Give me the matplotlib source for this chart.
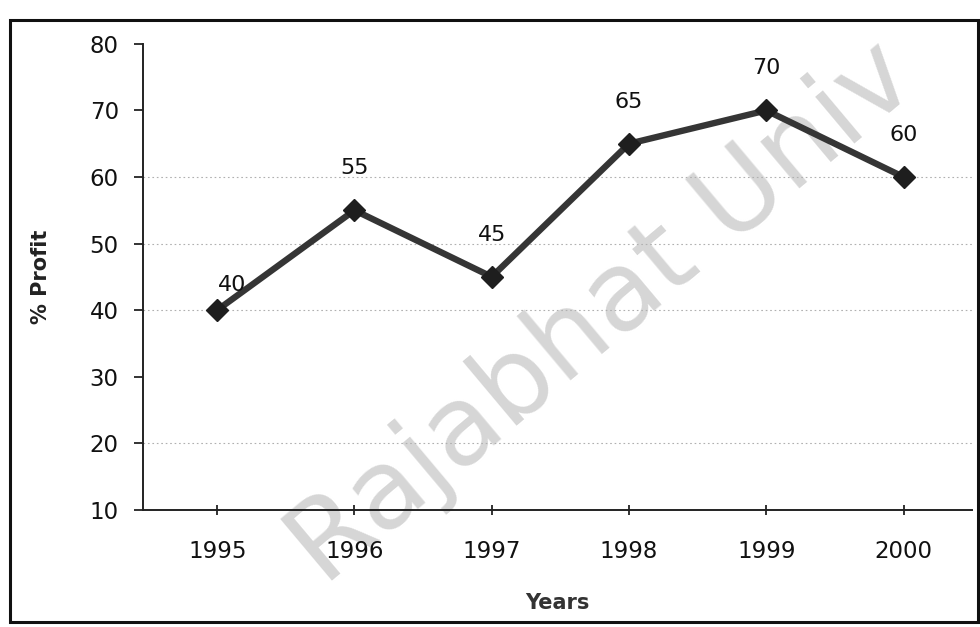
import matplotlib
matplotlib.use("Agg")
import matplotlib.pyplot as plt
from matplotlib.patches import Rectangle

years = ["1995", "1996", "1997", "1998", "1999", "2000"]
profit = [40, 55, 45, 65, 70, 60]
y_ticks = [10, 20, 30, 40, 50, 60, 70, 80]
grid_levels = [20, 40, 50, 60]

plt.rcParams["font.family"] = ["DejaVu Sans"]

fig = plt.figure(figsize=(9.8, 6.27), dpi=100)
ax = fig.add_axes([0.146, 0.187, 0.846, 0.743])
ax.set_facecolor("none")

x = list(range(len(years)))
ax.plot(x, profit, color="#353535", lw=4.6, marker="D", ms=11,
        mfc="#1e1e1e", mec="#1e1e1e", zorder=3, solid_joinstyle="round")

# value labels above each point
for xi, v in zip(x, profit):
    dx, dy = (0.11, 11) if xi == 0 else (0.0, 23)
    ax.annotate(str(v), (xi + dx, v), xytext=(0, dy), textcoords="offset points",
                ha="center", va="bottom", fontsize=16, color="#111111")

ax.set_xlim(-0.54, 5.5)
ax.set_ylim(10, 80)
ax.set_yticks(y_ticks)
ax.set_xticks(x)
ax.set_xticklabels(years)

for gy in grid_levels:
    ax.axhline(gy, color="#b0b0b0", lw=0.8, ls=(0, (1.5, 2.5)), zorder=1)

for side in ["top", "right"]:
    ax.spines[side].set_visible(False)
for side in ["left", "bottom"]:
    ax.spines[side].set_color("#222222")
    ax.spines[side].set_linewidth(1.4)

ax.tick_params(axis="y", direction="out", length=6.5, width=1.2, labelsize=16.5, pad=11,
               colors="#111111")
ax.tick_params(axis="x", direction="inout", length=7, width=1.2, labelsize=16.5, pad=18,
               colors="#111111")

ax.set_ylabel("% Profit", fontsize=15, fontweight="bold", color="#222222")
ax.yaxis.set_label_coords(-0.123, 0.5)
ax.yaxis.label.set_va("center")
ax.set_xlabel("Years", fontsize=15, fontweight="bold", color="#333333")
ax.xaxis.set_label_coords(0.5, -0.2)
ax.xaxis.label.set_va("center")

# outer frame around the whole chart
fig.patches.append(Rectangle((10 / 980, 1 - 622 / 627), 968 / 980, 602 / 627,
                             transform=fig.transFigure, fill=False,
                             edgecolor="#111111", lw=2.2))

# light grey watermark behind the plot
fig.text(0.615, 0.50, "Rajabhat Univ", rotation=40, fontsize=80,
         color="#d6d6d6", ha="center", va="center", zorder=-1)

fig.savefig("out.png", dpi=100)
